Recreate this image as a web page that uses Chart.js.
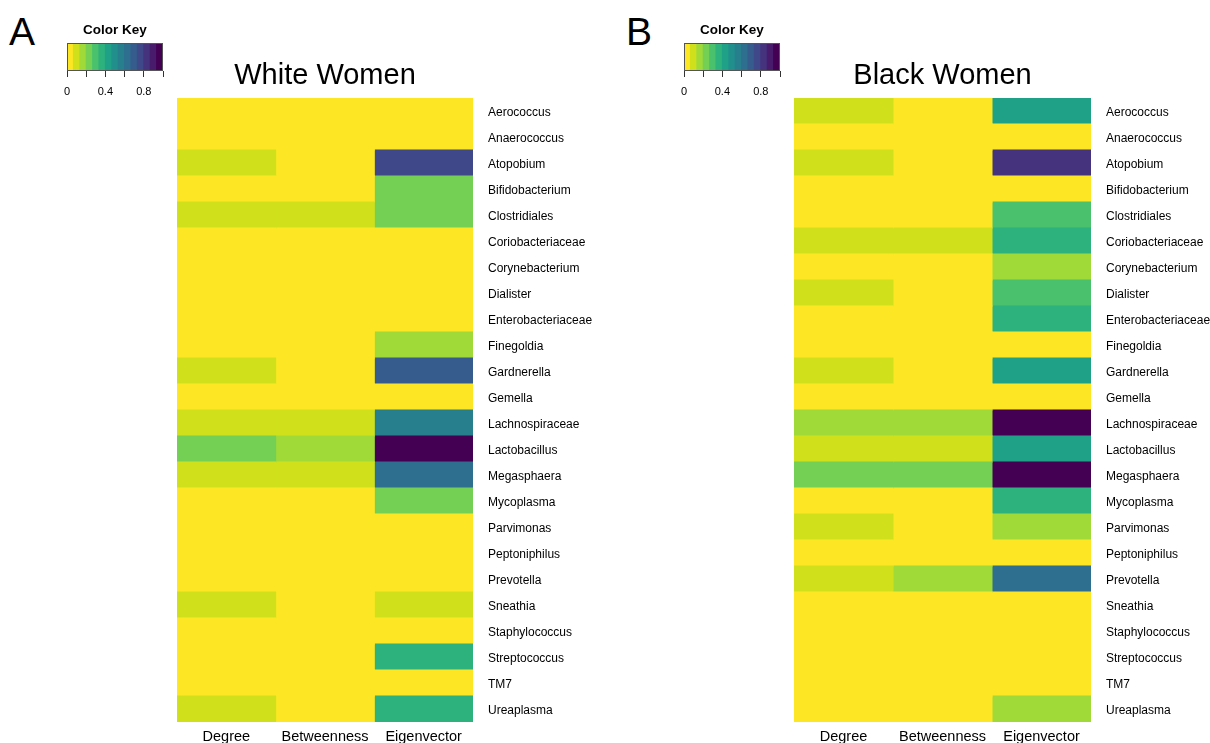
<!DOCTYPE html>
<html>
<head>
<meta charset="utf-8">
<title>Network centrality heatmaps</title>
<script src="https://cdn.jsdelivr.net/npm/chart.js@4/dist/chart.umd.min.js"></script>
<style>
  html, body { margin: 0; padding: 0; background: #fff; }
  body { width: 1210px; height: 743px; position: relative; overflow: hidden;
         font-family: "Liberation Sans", Arial, Helvetica, sans-serif; }
  canvas { position: absolute; }
  .letter { position: absolute; font-size: 39px; line-height: 39px; color: #000; }
</style>
</head>
<body>
<div class="letter" style="left:9px;top:12px">A</div>
<div class="letter" style="left:626px;top:12px">B</div>

<canvas id="heatWhite" width="610" height="743" style="left:0;top:0"></canvas>
<canvas id="heatBlack" width="593" height="743" style="left:617px;top:0"></canvas>
<canvas id="keyWhite" width="196" height="110" style="left:17px;top:0"></canvas>
<canvas id="keyBlack" width="196" height="110" style="left:634px;top:0"></canvas>

<script>
// Taxa (rows) and centrality measures (columns)
const taxa = [
  'Aerococcus', 'Anaerococcus', 'Atopobium', 'Bifidobacterium', 'Clostridiales',
  'Coriobacteriaceae', 'Corynebacterium', 'Dialister', 'Enterobacteriaceae', 'Finegoldia',
  'Gardnerella', 'Gemella', 'Lachnospiraceae', 'Lactobacillus', 'Megasphaera',
  'Mycoplasma', 'Parvimonas', 'Peptoniphilus', 'Prevotella', 'Sneathia',
  'Staphylococcus', 'Streptococcus', 'TM7', 'Ureaplasma'
];
const measures = ['Degree', 'Betweenness', 'Eigenvector'];

// Scaled centrality scores, White women (same row order as taxa)
const whiteDegree      = [0, 0, 0.10, 0, 0.10, 0, 0, 0, 0, 0, 0.10, 0, 0.10, 0.23, 0.10, 0, 0, 0, 0, 0.10, 0, 0, 0, 0.10];
const whiteBetweenness = [0, 0, 0, 0, 0.10, 0, 0, 0, 0, 0, 0, 0, 0.10, 0.17, 0.10, 0, 0, 0, 0, 0, 0, 0, 0, 0];
const whiteEigenvector = [0, 0, 0.77, 0.23, 0.23, 0, 0, 0, 0, 0.17, 0.70, 0, 0.57, 1.00, 0.63, 0.23, 0, 0, 0, 0.10, 0, 0.37, 0, 0.37];

// Scaled centrality scores, Black women
const blackDegree      = [0.10, 0, 0.10, 0, 0, 0.10, 0, 0.10, 0, 0, 0.10, 0, 0.17, 0.10, 0.23, 0, 0.10, 0, 0.10, 0, 0, 0, 0, 0];
const blackBetweenness = [0, 0, 0, 0, 0, 0.10, 0, 0, 0, 0, 0, 0, 0.17, 0.10, 0.23, 0, 0, 0, 0.17, 0, 0, 0, 0, 0];
const blackEigenvector = [0.43, 0, 0.83, 0, 0.30, 0.37, 0.17, 0.30, 0.37, 0, 0.43, 0, 1.00, 0.43, 1.00, 0.37, 0.17, 0, 0.63, 0, 0, 0, 0, 0.17];

// Colour key: 15 equal bins on [0, 1]
const keyBreaks = [0, 1/15, 2/15, 3/15, 4/15, 5/15, 6/15, 7/15, 8/15, 9/15, 10/15, 11/15, 12/15, 13/15, 14/15, 1];
const keyTicks = [0, 0.2, 0.4, 0.6, 0.8, 1];
const keyTickLabels = ['0', '', '0.4', '', '0.8', ''];

// Reversed viridis, one colour per bin (low -> high)
const palette = [
  '#FDE725', '#D0E11C', '#A0DA39', '#73D055', '#4AC16D', '#2DB27D', '#1FA187', '#21908C',
  '#277F8E', '#2E6E8E', '#365C8D', '#3F4889', '#46337E', '#481B6D', '#440154'
];

const FONT = '"Liberation Sans", Arial, Helvetica, sans-serif';

function colorFor(v) {
  const bin = Math.min(palette.length - 1, Math.max(0, Math.floor(v * palette.length + 1e-9)));
  return palette[bin];
}

const noInteraction = { legend: { display: false }, tooltip: { enabled: false } };

function heatmap(canvasId, title, columns, axisWidth) {
  new Chart(document.getElementById(canvasId), {
    type: 'bar',
    data: {
      labels: taxa,
      datasets: columns.map((values, c) => ({
        label: measures[c],
        // each cell spans one column unit; its colour encodes the score
        data: values.map(() => [c, c + 1]),
        backgroundColor: values.map(colorFor),
        borderWidth: 0,
        grouped: false,
        barPercentage: 1,
        categoryPercentage: 1,
        inflateAmount: 0.5
      }))
    },
    options: {
      indexAxis: 'y',
      responsive: false,
      animation: false,
      devicePixelRatio: 1,
      layout: { padding: { left: 177, top: 0, right: 0, bottom: 0 } },
      plugins: {
        ...noInteraction,
        title: {
          display: true, text: title, fullSize: false, color: '#000',
          font: { family: FONT, size: 29, weight: 'normal' },
          padding: { top: 58.4, bottom: 4.8 }
        }
      },
      scales: {
        x: {
          type: 'linear', min: 0, max: 3, position: 'bottom',
          grid: { display: false, drawTicks: false },
          border: { display: false },
          afterBuildTicks: s => { s.ticks = measures.map((m, i) => ({ value: i + 0.5 })); },
          afterFit: s => { s.height = 21; },
          ticks: {
            autoSkip: false, maxRotation: 0, padding: 6.3, color: '#000',
            font: { family: FONT, size: 14.5 },
            callback: v => measures[Math.floor(v)]
          }
        },
        y: {
          type: 'category', position: 'right',
          // hidden tick marks only provide the gap between cells and taxon names
          grid: { display: false, drawTicks: true, tickLength: 15 },
          border: { display: false },
          afterFit: s => { s.width = axisWidth; },
          ticks: { autoSkip: false, padding: 0, labelOffset: 1.5, color: '#000', font: { family: FONT, size: 12 } }
        }
      }
    }
  });
}

// thin frame around the colour key strip
const keyFrame = {
  id: 'keyFrame',
  afterDatasetsDraw(chart) {
    const { ctx, chartArea: a } = chart;
    ctx.save();
    ctx.strokeStyle = '#555';
    ctx.lineWidth = 1;
    ctx.strokeRect(Math.round(a.left) + 0.5, Math.round(a.top) + 0.5,
                   Math.round(a.right - a.left) - 1, Math.round(a.bottom - a.top) - 1);
    ctx.restore();
  }
};

function colorKey(canvasId) {
  new Chart(document.getElementById(canvasId), {
    type: 'bar',
    data: {
      labels: ['key'],
      datasets: [{
        data: keyBreaks.slice(0, -1).map((b, i) => ({ x: [b, keyBreaks[i + 1]], y: 'key' })),
        backgroundColor: palette,
        borderWidth: 0,
        barPercentage: 1,
        categoryPercentage: 1,
        inflateAmount: 0.5
      }]
    },
    options: {
      indexAxis: 'y',
      responsive: false,
      animation: false,
      devicePixelRatio: 1,
      layout: { padding: { left: 50, right: 50, top: 0, bottom: 0 } },
      plugins: {
        ...noInteraction,
        title: {
          display: true, text: 'Color Key', fullSize: false, color: '#000',
          font: { family: FONT, size: 13.5, weight: 'bold' },
          padding: { top: 22, bottom: 5 }
        }
      },
      scales: {
        x: {
          type: 'linear', min: 0, max: 1,
          grid: { display: true, drawOnChartArea: false, drawTicks: true, tickLength: 6, color: '#333', lineWidth: 1 },
          border: { display: false },
          afterBuildTicks: s => { s.ticks = keyTicks.map(v => ({ value: v })); },
          afterFit: s => { s.height = 39; },
          ticks: {
            autoSkip: false, maxRotation: 0, padding: 8, color: '#000',
            font: { family: FONT, size: 11 },
            callback: (v, i) => keyTickLabels[i]
          }
        },
        y: { type: 'category', display: false }
      }
    },
    plugins: [keyFrame]
  });
}

heatmap('heatWhite', 'White Women', [whiteDegree, whiteBetweenness, whiteEigenvector], 137);
heatmap('heatBlack', 'Black Women', [blackDegree, blackBetweenness, blackEigenvector], 119);
colorKey('keyWhite');
colorKey('keyBlack');
</script>
</body>
</html>
